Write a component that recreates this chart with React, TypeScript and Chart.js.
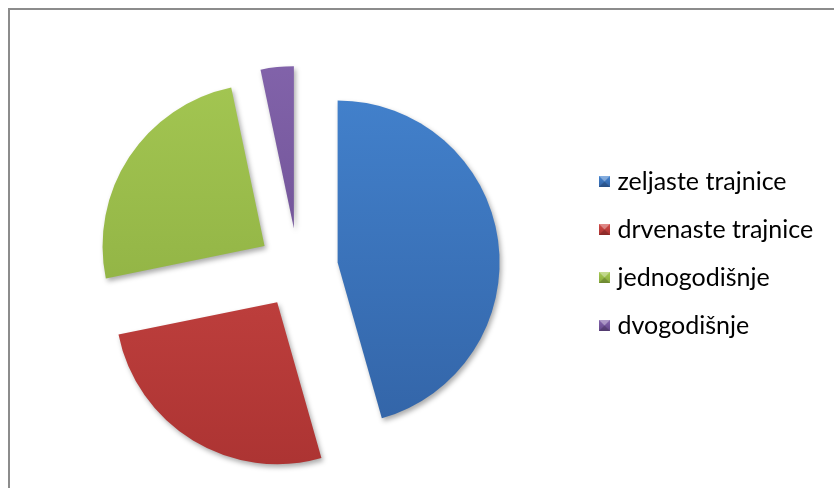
import React, { useEffect, useRef } from "react";
import { Chart, registerables } from "chart.js";

Chart.register(...registerables);

const categories = ["zeljaste trajnice", "drvenaste trajnice", "jednogodišnje", "dvogodišnje"];
const shares = [45.6, 26.2, 24.9, 3.3];

const topColors = ["#4484d0", "#d14b48", "#a6c954", "#8566ae"];
const bottomColors = ["#3161a3", "#a83130", "#86a73c", "#634787"];

const PIE_RADIUS = 162;
const EXPLODE = 160; // Chart.js moves each arc by offset / 4
const LEGEND_FONT = 25;
const LEGEND_PAD = 23;
const LEGEND_CURSOR_X = 604;
const CANVAS_W = 834;
const CANVAS_H = 488;
const CENTER_X = 298;
const CENTER_Y = 268;
const LEGEND_TOP = 146;

function makeMarker(top: string, bottom: string): HTMLCanvasElement {
  const c = document.createElement("canvas");
  c.width = 11;
  c.height = 11;
  const g = c.getContext("2d")!;
  const grad = g.createLinearGradient(0, 0, 0, 11);
  grad.addColorStop(0, top);
  grad.addColorStop(1, bottom);
  g.fillStyle = grad;
  g.fillRect(0, 0, 11, 11);
  g.fillStyle = "rgba(255,255,255,0.35)";
  g.beginPath();
  g.moveTo(0, 0);
  g.lineTo(11, 0);
  g.lineTo(5.5, 5.5);
  g.closePath();
  g.fill();
  g.fillStyle = "rgba(0,0,0,0.18)";
  g.beginPath();
  g.moveTo(0, 11);
  g.lineTo(11, 11);
  g.lineTo(5.5, 5.5);
  g.closePath();
  g.fill();
  return c;
}

// Chart.js enlarges and narrows exploded arcs slightly; undo that so every
// slice keeps the same radius and its true angle.
const equalRadiusPlugin = {
  id: "equalRadius",
  afterDatasetUpdate(chart: any, args: any) {
    const meta = args.meta || chart.getDatasetMeta(0);
    meta.data.forEach((el: any) => {
      const circ = el.circumference;
      const fix = 1 - Math.sin(Math.min(Math.PI, circ || 0));
      const off = (EXPLODE / 4) * fix;
      el.outerRadius = PIE_RADIUS - off;
      const delta = off / (2 * Math.PI * PIE_RADIUS);
      el.startAngle -= delta;
      el.endAngle += delta;
    });
  },
};

const shadowPlugin = {
  id: "sliceShadow",
  beforeDatasetsDraw(chart: any) {
    const ctx = chart.ctx;
    ctx.save();
    ctx.shadowColor = "rgba(0,0,0,0.33)";
    ctx.shadowBlur = 5;
    ctx.shadowOffsetX = 2;
    ctx.shadowOffsetY = 3;
  },
  afterDatasetsDraw(chart: any) {
    chart.ctx.restore();
  },
};

export default function App() {
  const ref = useRef<HTMLCanvasElement | null>(null);

  useEffect(() => {
    if (!ref.current) return;
    const markers = categories.map((_, i) => makeMarker(topColors[i], bottomColors[i]));

    const mctx = document.createElement("canvas").getContext("2d")!;
    mctx.font = `${LEGEND_FONT}px Lato`;
    const textW = Math.max(...categories.map((t) => mctx.measureText(t).width));
    const legendLeft = LEGEND_CURSOR_X - LEGEND_PAD;
    const legendWidth = LEGEND_PAD + 1 + LEGEND_FONT / 2 + textW + 10;
    const padLeft = 2 * CENTER_X - legendLeft;
    const padRight = CANVAS_W - legendLeft - legendWidth;
    const padTop = LEGEND_TOP;
    const padBottom = LEGEND_TOP + CANVAS_H - 2 * CENTER_Y;

    const chart = new Chart(ref.current, {
      type: "pie",
      data: {
        labels: categories,
        datasets: [
          {
            data: shares,
            backgroundColor: (ctx: any) => {
              const i = ctx.dataIndex;
              const ca = ctx.chart.chartArea;
              if (!ca) return topColors[i];
              const cy = (ca.top + ca.bottom) / 2;
              const g = ctx.chart.ctx.createLinearGradient(0, cy - 210, 0, cy + 210);
              g.addColorStop(0, topColors[i]);
              g.addColorStop(1, bottomColors[i]);
              return g;
            },
            borderWidth: 0,
            offset: EXPLODE,
            hoverOffset: 0,
            radius: PIE_RADIUS,
            clip: false,
          } as any,
        ],
      },
      options: {
        responsive: false,
        animation: false,
        devicePixelRatio: 1,
        layout: { padding: { left: padLeft, right: padRight, top: padTop, bottom: padBottom } },
        plugins: {
          tooltip: { enabled: false },
          legend: {
            position: "right",
            align: "start",
            labels: {
              usePointStyle: true,
              pointStyleWidth: 1,
              boxHeight: 11,
              padding: LEGEND_PAD,
              color: "#000000",
              font: { family: "Lato", size: LEGEND_FONT },
              generateLabels: () =>
                categories.map((text, i) => ({
                  text,
                  fillStyle: topColors[i],
                  strokeStyle: topColors[i],
                  lineWidth: 0,
                  pointStyle: markers[i],
                  hidden: false,
                  index: i,
                  fontColor: "#000000",
                })),
            },
          },
        },
      } as any,
      plugins: [equalRadiusPlugin, shadowPlugin],
    });
    return () => chart.destroy();
  }, []);

  return (
    <div
      style={{
        position: "fixed",
        left: 0,
        top: 0,
        width: CANVAS_W,
        height: CANVAS_H,
        overflow: "hidden",
        background: "#ffffff",
      }}
    >
      <div
        style={{
          position: "absolute",
          left: 8,
          top: 8,
          width: 840,
          height: 500,
          borderLeft: "2px solid #8c8c8c",
          borderTop: "2px solid #8c8c8c",
        }}
      />
      <canvas
        ref={ref}
        width={CANVAS_W}
        height={CANVAS_H}
        style={{ position: "absolute", left: 0, top: 0, width: CANVAS_W, height: CANVAS_H }}
      />
    </div>
  );
}
